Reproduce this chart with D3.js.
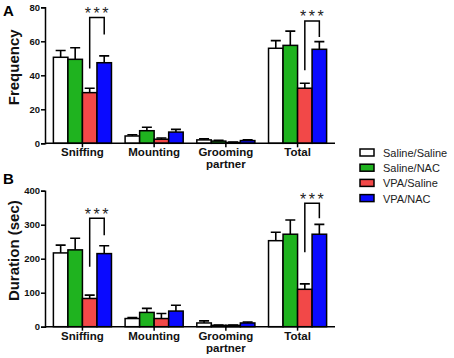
<!DOCTYPE html>
<html>
<head>
<meta charset="utf-8">
<script src="https://cdn.jsdelivr.net/npm/d3@7"></script>
<style>
  body { margin: 0; background: #fff; }
  svg { display: block; font-family: Arial, "Liberation Sans", sans-serif; }
</style>
</head>
<body>
<div id="chart"></div>
<script>
// DATA
const groups = ["Sniffing", "Mounting", "Grooming partner", "Total"]
const series = ["Saline/Saline", "Saline/NAC", "VPA/Saline", "VPA/NAC"]
const colors = ["#ffffff", "#1fb31f", "#f24848", "#0a0aff"]

const freqMean = [[50.6, 49.4, 29.8, 47.4], [4.3, 7.4, 2.4, 6.6], [2.0, 1.3, 0.5, 1.6], [55.9, 57.6, 32.4, 55.3]]
const freqSem = [[4, 6.8, 2.6, 4], [0.7, 2, 0.7, 1.6], [0.6, 0.5, 0.3, 0.4], [4.5, 8.4, 2.9, 4.5]]
const freqTicks = [0, 20, 40, 60, 80]
const freqBrackets = [
  { group: "Sniffing", left: 44, top: 74, right: 64 },
  { group: "Total", left: 43, top: 72, right: 62.5 },
]

const durMean = [[217, 226, 83, 215], [24, 42, 24, 46], [11, 4, 4, 11], [253, 272, 110, 272]]
const durSem = [[23, 34, 10, 23], [3, 12, 15, 17], [6, 1, 1, 3], [25, 42, 16, 29]]
const durTicks = [0, 100, 200, 300, 400]
const durBrackets = [
  { group: "Sniffing", left: 176, top: 319, right: 269 },
  { group: "Total", left: 219, top: 363, right: 319 },
]

// DIMENSIONS
const width = 454
const height = 358
const axisLeft = 45
const axisRight = 335

const svg = d3.select("#chart")
  .append("svg")
  .attr("width", width)
  .attr("height", height)

const xScale = d3.scaleBand()
  .domain(groups)
  .range([axisLeft, axisRight])
  .paddingInner(0.19)
  .paddingOuter(0.117)

const xInner = d3.scaleBand()
  .domain(d3.range(series.length))
  .range([0, xScale.bandwidth()])

const drawPanel = (p) => {
  const yScale = d3.scaleLinear()
    .domain([0, p.max])
    .range([p.bottom, p.top])

  const g = svg.append("g")

  // bars
  const groupG = g.selectAll(".grp").data(groups).enter()
    .append("g")
    .attr("transform", (d) => `translate(${xScale(d)},0)`)

  groupG.each(function (grp, gi) {
    const sel = d3.select(this)
    const rows = series.map((s, si) => ({ si, mean: p.mean[gi][si], sem: p.sem[gi][si] }))

    // error bars (upper only)
    sel.selectAll(".err").data(rows).enter()
      .append("path")
      .attr("d", (d) => {
        const cx = xInner(d.si) + xInner.bandwidth() / 2
        const y0 = yScale(d.mean)
        const y1 = yScale(d.mean + d.sem)
        return `M${cx},${y0}V${y1}M${cx - 5},${y1}H${cx + 5}`
      })
      .attr("stroke", "#000")
      .attr("stroke-width", 1.6)
      .attr("fill", "none")

    sel.selectAll("rect").data(rows).enter()
      .append("rect")
      .attr("x", (d) => xInner(d.si))
      .attr("y", (d) => yScale(d.mean))
      .attr("width", xInner.bandwidth())
      .attr("height", (d) => p.bottom - yScale(d.mean))
      .attr("fill", (d) => colors[d.si])
      .attr("stroke", "#000")
      .attr("stroke-width", 1.5)
  })

  // y axis
  const yAxis = g.append("g")
    .attr("transform", `translate(${axisLeft},0)`)
    .call(d3.axisLeft(yScale).tickValues(p.ticks).tickSize(4).tickPadding(1))
  yAxis.select(".domain").attr("stroke-width", 1.5)
  yAxis.selectAll(".tick line").attr("stroke-width", 1.5)
  yAxis.selectAll("text")
    .attr("font-size", 9.5)
    .attr("font-weight", "bold")
    .attr("font-family", "Arial, 'Liberation Sans', sans-serif")
    .attr("fill", "#111")

  // x axis
  g.append("line")
    .attr("x1", axisLeft).attr("x2", axisRight)
    .attr("y1", p.bottom).attr("y2", p.bottom)
    .attr("stroke", "#000").attr("stroke-width", 1.5)

  const xTicks = g.selectAll(".xt").data(groups).enter()
    .append("g")
    .attr("transform", (d) => `translate(${xScale(d) + xScale.bandwidth() / 2},${p.bottom})`)
  xTicks.append("line")
    .attr("y2", 4).attr("stroke", "#000").attr("stroke-width", 1.5)
  xTicks.append("text")
    .attr("text-anchor", "middle")
    .attr("font-size", 11.5)
    .attr("font-weight", "bold")
    .attr("fill", "#111")
    .selectAll("tspan")
    .data((d) => d.split(" "))
    .enter()
    .append("tspan")
    .attr("x", 0)
    .attr("y", (d, i) => 13 + i * 12)
    .text((d) => d)

  // y title
  g.append("text")
    .attr("transform", `translate(19,${(p.top + p.bottom) / 2 - 8}) rotate(-90)`)
    .attr("text-anchor", "middle")
    .attr("font-size", 15)
    .attr("font-weight", "bold")
    .attr("fill", "#111")
    .text(p.title)

  // panel letter
  g.append("text")
    .attr("x", 3)
    .attr("y", p.letterY)
    .attr("font-size", 15)
    .attr("font-weight", "bold")
    .text(p.letter)

  // significance brackets
  p.brackets.forEach((b) => {
    const x0 = xScale(b.group) + xInner(2) + xInner.bandwidth() / 2
    const x1 = xScale(b.group) + xInner(3) + xInner.bandwidth() / 2
    g.append("path")
      .attr("d", `M${x0},${yScale(b.left)}V${yScale(b.top)}H${x1}V${yScale(b.right)}`)
      .attr("fill", "none")
      .attr("stroke", "#000")
      .attr("stroke-width", 1.5)
    g.append("text")
      .attr("x", (x0 + x1) / 2 + 1)
      .attr("y", yScale(b.top) + 1.5)
      .attr("text-anchor", "middle")
      .attr("font-size", 16)
      .attr("letter-spacing", 2.5)
      .attr("fill", "#222")
      .text("***")
  })
}

drawPanel({
  mean: freqMean, sem: freqSem, ticks: freqTicks, max: 80,
  top: 7.3, bottom: 143.3, title: "Frequency", letter: "A", letterY: 16,
  brackets: freqBrackets,
})

drawPanel({
  mean: durMean, sem: durSem, ticks: durTicks, max: 400,
  top: 190.7, bottom: 326.7, title: "Duration (sec)", letter: "B", letterY: 184,
  brackets: durBrackets,
})

// legend
const legend = svg.append("g")
  .attr("transform", "translate(360,149)")
const item = legend.selectAll("g").data(series).enter()
  .append("g")
  .attr("transform", (d, i) => `translate(0,${i * 15.2})`)
item.append("rect")
  .attr("width", 14)
  .attr("height", 7)
  .attr("fill", (d, i) => colors[i])
  .attr("stroke", "#000")
  .attr("stroke-width", 1.5)
item.append("text")
  .attr("x", 23)
  .attr("y", 8)
  .attr("font-size", 11)
  .attr("fill", "#222")
  .text((d) => d)
</script>
</body>
</html>
